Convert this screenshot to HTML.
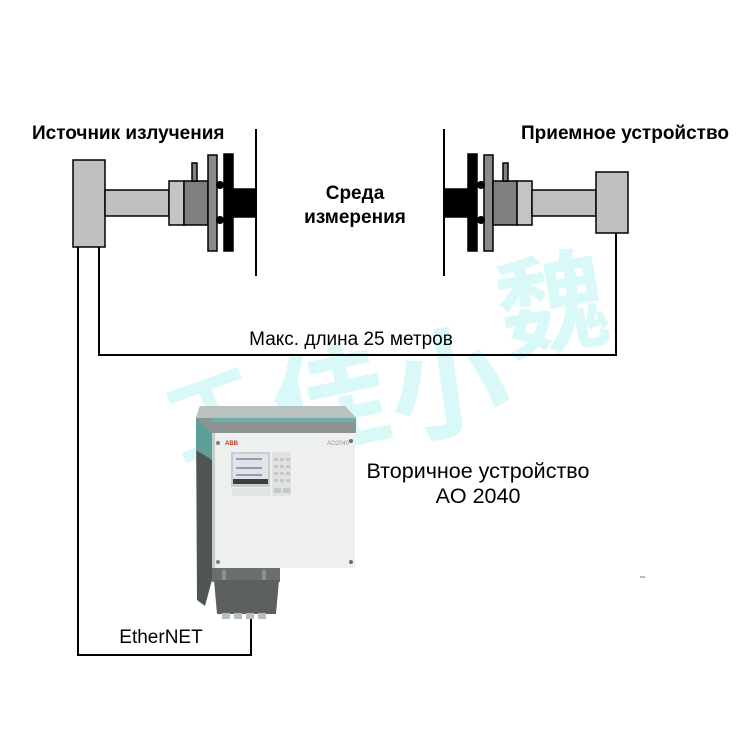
<!DOCTYPE html>
<html>
<head>
<meta charset="utf-8">
<style>
html,body{margin:0;padding:0;background:#fff;}
svg{display:block;}
.b{font-family:"Liberation Sans",Arial,sans-serif;font-weight:bold;fill:#000;}
.r{font-family:"Liberation Sans",Arial,sans-serif;fill:#000;}
</style>
</head>
<body>
<svg width="750" height="750" viewBox="0 0 750 750" xmlns="http://www.w3.org/2000/svg">
<rect width="750" height="750" fill="#fff"/>

<!-- watermark -->
<g fill="#d3f7f7" opacity="0.85" font-family="'Noto Sans CJK SC','WenQuanYi Zen Hei',sans-serif" font-weight="bold">
  <text x="165" y="450" font-size="95" transform="rotate(-20 210 410)">工</text>
  <text x="270" y="445" font-size="115" transform="rotate(-12 320 390)">佳</text>
  <text x="385" y="430" font-size="120" transform="rotate(-8 430 360)">小</text>
  <text x="495" y="345" font-size="110" transform="rotate(-10 550 290)">魏</text>
</g>

<!-- wires -->
<g stroke="#000" stroke-width="2" fill="none">
  <polyline points="78,247 78,655 251,655 251,615"/>
  <polyline points="99,247 99,355 616,355 616,233"/>
  <line x1="256" y1="129" x2="256" y2="276"/>
  <line x1="444" y1="129" x2="444" y2="276"/>
</g>

<!-- left source assembly -->
<g stroke="#000" stroke-width="1.5">
  <rect x="73" y="160" width="32" height="87" fill="#c0c0c0"/>
  <rect x="105" y="190" width="64" height="26" fill="#c0c0c0"/>
  <rect x="169" y="181" width="15" height="44" fill="#c4c4c4"/>
  <rect x="184" y="181" width="24" height="44" fill="#808080"/>
  <rect x="192" y="163" width="5" height="18" fill="#808080"/>
  <rect x="208" y="155" width="9" height="96" fill="#8a8a8a"/>
  <rect x="224" y="154" width="9" height="97" fill="#000"/>
  <rect x="233" y="189" width="22" height="28" fill="#000"/>
</g>
<circle cx="220" cy="185" r="4" fill="#000"/>
<circle cx="220" cy="220" r="4" fill="#000"/>

<!-- right receiver assembly -->
<g stroke="#000" stroke-width="1.5">
  <rect x="445" y="189" width="24" height="28" fill="#000"/>
  <rect x="468" y="154" width="9" height="97" fill="#000"/>
  <rect x="484" y="155" width="9" height="96" fill="#8a8a8a"/>
  <rect x="493" y="181" width="24" height="44" fill="#808080"/>
  <rect x="503" y="163" width="5" height="18" fill="#808080"/>
  <rect x="517" y="181" width="15" height="44" fill="#c4c4c4"/>
  <rect x="532" y="190" width="64" height="26" fill="#c0c0c0"/>
  <rect x="596" y="172" width="32" height="61" fill="#c0c0c0"/>
</g>
<circle cx="481" cy="185" r="4" fill="#000"/>
<circle cx="481" cy="220" r="4" fill="#000"/>

<!-- labels -->
<text class="b" x="32" y="139" font-size="19">Источник излучения</text>
<text class="b" x="521" y="139" font-size="19">Приемное устройство</text>
<text class="b" x="355" y="199" font-size="19" text-anchor="middle">Среда</text>
<text class="b" x="355" y="223" font-size="19" text-anchor="middle">измерения</text>
<text class="r" x="351" y="345" font-size="19" text-anchor="middle">Макс. длина 25 метров</text>
<text class="r" x="478" y="478" font-size="21.5" text-anchor="middle">Вторичное устройство</text>
<text class="r" x="478" y="503" font-size="21.5" text-anchor="middle">AO 2040</text>
<text class="r" x="161" y="643" font-size="19" text-anchor="middle">EtherNET</text>

<!-- analyzer device -->
<!-- left side -->
<polygon points="196,418 212,430 212,580 205,606 197,600" fill="#4f5552"/>
<polygon points="196,418 212,430 212,460 196,450" fill="#5d9f98"/>
<!-- lid -->
<polygon points="200,406 345,406 356,418 356,433 212,433 196,418" fill="#8d9390"/>
<polygon points="200,406 345,406 356,418 212,418 196,418" fill="#b9c2bf"/>
<polygon points="212,418 356,418 356,422 212,422" fill="#6faea7"/>
<!-- front panel -->
<rect x="212" y="433" width="143" height="135" fill="#eef0ef"/>
<rect x="212" y="433" width="3" height="135" fill="#c8cdca"/>
<circle cx="218" cy="443" r="2" fill="#7a807d"/>
<circle cx="351" cy="441" r="2" fill="#6a706d"/>
<circle cx="218" cy="562" r="2" fill="#7a807d"/>
<circle cx="351" cy="562" r="2" fill="#6a706d"/>
<text x="225" y="445" font-family="'Liberation Sans',sans-serif" font-size="6" font-weight="bold" fill="#c0392b">ABB</text>
<text x="327" y="445" font-family="'Liberation Sans',sans-serif" font-size="6" fill="#999">AO2040</text>
<!-- display -->
<rect x="231" y="452" width="39" height="35" fill="#c9cdd0"/>
<rect x="233" y="454" width="35" height="25" fill="#dde4ea"/>
<rect x="233" y="479" width="35" height="5" fill="#3a3f42"/>
<line x1="236" y1="459" x2="262" y2="459" stroke="#556" stroke-width="1"/>
<line x1="236" y1="468" x2="262" y2="468" stroke="#556" stroke-width="1"/>
<line x1="236" y1="475" x2="262" y2="475" stroke="#556" stroke-width="1"/>
<rect x="232" y="488" width="38" height="8" fill="#e2e5e4"/>
<!-- keypad -->
<rect x="272" y="452" width="19" height="44" fill="#dfe2e1"/>
<g fill="#c4c8c6">
  <rect x="274" y="458" width="4" height="3"/><rect x="280" y="458" width="4" height="3"/><rect x="286" y="458" width="4" height="3"/>
  <rect x="274" y="465" width="4" height="3"/><rect x="280" y="465" width="4" height="3"/><rect x="286" y="465" width="4" height="3"/>
  <rect x="274" y="472" width="4" height="3"/><rect x="280" y="472" width="4" height="3"/><rect x="286" y="472" width="4" height="3"/>
  <rect x="274" y="479" width="4" height="3"/><rect x="280" y="479" width="4" height="3"/><rect x="286" y="479" width="4" height="3"/>
  <rect x="274" y="488" width="7" height="5"/><rect x="283" y="488" width="7" height="5"/>
</g>
<!-- bottom box -->
<rect x="212" y="568" width="68" height="14" fill="#6a6f6c"/>
<polygon points="214,580 279,580 276,614 217,614" fill="#5c615e"/>
<rect x="222" y="570" width="4" height="10" fill="#8a8f8c"/>
<rect x="262" y="570" width="4" height="10" fill="#8a8f8c"/>
<g fill="#b8bcba">
  <rect x="222" y="613" width="8" height="6"/><rect x="234" y="613" width="8" height="6"/>
  <rect x="246" y="613" width="8" height="6"/><rect x="258" y="613" width="8" height="6"/>
</g>
<rect x="640" y="576" width="5" height="2" fill="#bbb"/>
</svg>
</body>
</html>
